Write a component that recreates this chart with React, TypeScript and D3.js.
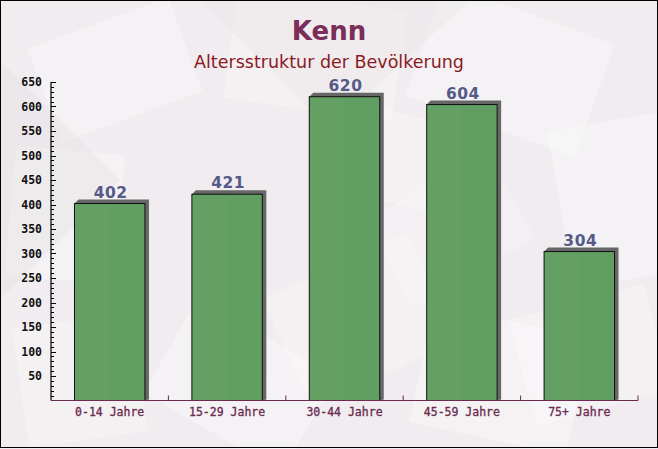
import React, { useEffect, useRef } from "react";
import * as d3 from "d3";

const categories = ["0-14 Jahre", "15-29 Jahre", "30-44 Jahre", "45-59 Jahre", "75+ Jahre"];
const values = [402, 421, 620, 604, 304];
const yTicks = [50, 100, 150, 200, 250, 300, 350, 400, 450, 500, 550, 600, 650];
const title = "Kenn";
const subtitle = "Altersstruktur der Bevölkerung";

const W = 658;
const H = 449;

export default function App() {
  const ref = useRef<SVGSVGElement | null>(null);

  useEffect(() => {
    document.body.style.margin = "0";
    const svg = d3.select(ref.current);
    svg.selectAll("*").remove();

    const left = 51, right = 638, top = 82, bottom = 400.5;
    const x = d3.scaleBand<string>().domain(categories).range([left, right]).paddingInner(0.4).paddingOuter(0.2);
    const y = d3.scaleLinear().domain([0, 650]).range([bottom, top]);

    // background
    svg.append("rect").attr("x", 0).attr("y", 0).attr("width", W).attr("height", H).attr("fill", "#f0ecef");
    const bg = svg.append("g");
    const shapes = [
      [40, 20, 150, 100, -20, 0.3], [230, 0, 170, 110, 8, 0.25], [420, 10, 180, 120, 20, 0.3],
      [560, 120, 120, 160, -10, 0.3], [320, 110, 130, 90, 15, 0.25], [10, 150, 110, 130, 5, 0.3],
      [280, 260, 160, 120, -25, 0.25], [160, 330, 160, 110, 30, 0.3], [420, 320, 160, 120, 12, 0.35],
      [520, 300, 140, 110, -15, 0.25], [20, 320, 120, 120, -8, 0.25], [380, 180, 140, 100, -30, 0.2],
    ];
    shapes.forEach(([sx, sy, sw, sh, rot, op]) => {
      bg.append("rect").attr("x", sx).attr("y", sy).attr("width", sw).attr("height", sh)
        .attr("fill", "#ffffff").attr("opacity", op)
        .attr("transform", `rotate(${rot},${sx + sw / 2},${sy + sh / 2})`);
    });
    svg.append("path").attr("d", "M0,60 L120,180 L0,300 Z").attr("fill", "#e6e0e4").attr("opacity", 0.4);
    svg.append("path").attr("d", "M200,0 L330,130 L470,0 Z").attr("fill", "#e8e2e6").attr("opacity", 0.3);

    // titles
    svg.append("text").attr("x", W / 2).attr("y", 40).attr("text-anchor", "middle")
      .attr("font-family", "DejaVu Sans").attr("font-weight", "bold").attr("font-size", 26)
      .attr("fill", "#7a2e58").text(title);
    svg.append("text").attr("x", W / 2).attr("y", 68).attr("text-anchor", "middle")
      .attr("font-family", "DejaVu Sans").attr("font-size", 17.5)
      .attr("fill", "#8b1a24").text(subtitle);

    // bars
    const g = svg.append("g");
    categories.forEach((c, i) => {
      const bx = x(c)!;
      const bw = x.bandwidth();
      const by = y(values[i]);
      const d = 4;
      g.append("path")
        .attr("d", `M${bx},${by} L${bx + d},${by - d} L${bx + bw + d},${by - d} L${bx + bw + d},${bottom - 1} L${bx + bw},${bottom} Z`)
        .attr("fill", "#676767");
      g.append("rect").attr("x", bx).attr("y", by).attr("width", bw).attr("height", bottom - by)
        .attr("fill", "#619e61").attr("stroke", "#111").attr("stroke-width", 1);
      g.append("rect").attr("x", bx + 0.5).attr("y", by + 0.5).attr("width", bw * 0.5).attr("height", bottom - by - 1)
        .attr("fill", "#ffffff").attr("opacity", 0.025);
      g.append("text").attr("x", bx + bw / 2 + 1).attr("y", by - 6).attr("text-anchor", "middle")
        .attr("font-family", "DejaVu Sans").attr("font-weight", "bold").attr("font-size", 15.5)
        .attr("letter-spacing", 0.5)
        .attr("fill", "#555a88").text(String(values[i]));
    });

    // y axis
    svg.append("line").attr("x1", left).attr("x2", left).attr("y1", top).attr("y2", bottom)
      .attr("stroke", "#000").attr("stroke-width", 1.2);
    const minor = d3.range(10, 651, 10);
    minor.forEach((v) => {
      const major = v % 50 === 0;
      svg.append("line").attr("x1", left).attr("x2", left + (major ? 5 : 3))
        .attr("y1", Math.round(y(v)) + 0.5).attr("y2", Math.round(y(v)) + 0.5)
        .attr("stroke", "#000").attr("stroke-width", 1);
    });
    yTicks.forEach((v) => {
      svg.append("text").attr("x", 42).attr("y", y(v) + 4).attr("text-anchor", "end")
        .attr("font-family", "DejaVu Sans Mono").attr("font-weight", "bold").attr("font-size", 11.5)
        .attr("fill", "#111").text(String(v));
    });

    // x axis
    svg.append("line").attr("x1", left).attr("x2", right).attr("y1", bottom).attr("y2", bottom)
      .attr("stroke", "#6b2a4e").attr("stroke-width", 1.2);
    const step = x.step();
    d3.range(1, categories.length + 1).forEach((k) => {
      const tx = left + step * k;
      svg.append("line").attr("x1", tx).attr("x2", tx).attr("y1", bottom).attr("y2", bottom - 5)
        .attr("stroke", "#6b2a4e").attr("stroke-width", 1);
    });
    categories.forEach((c) => {
      svg.append("text").attr("x", x(c)! + x.bandwidth() / 2).attr("y", 416).attr("text-anchor", "middle")
        .attr("font-family", "DejaVu Sans Mono").attr("font-size", 11.5)
        .attr("stroke", "#6b2a4e").attr("stroke-width", 0.3)
        .attr("fill", "#6b2a4e").text(c);
    });

    // border
    svg.append("rect").attr("x", 0.5).attr("y", 0.5).attr("width", W - 1).attr("height", H - 2)
      .attr("fill", "none").attr("stroke", "#000").attr("stroke-width", 1);
  }, []);

  return <svg ref={ref} width={W} height={H} style={{ display: "block" }} />;
}
